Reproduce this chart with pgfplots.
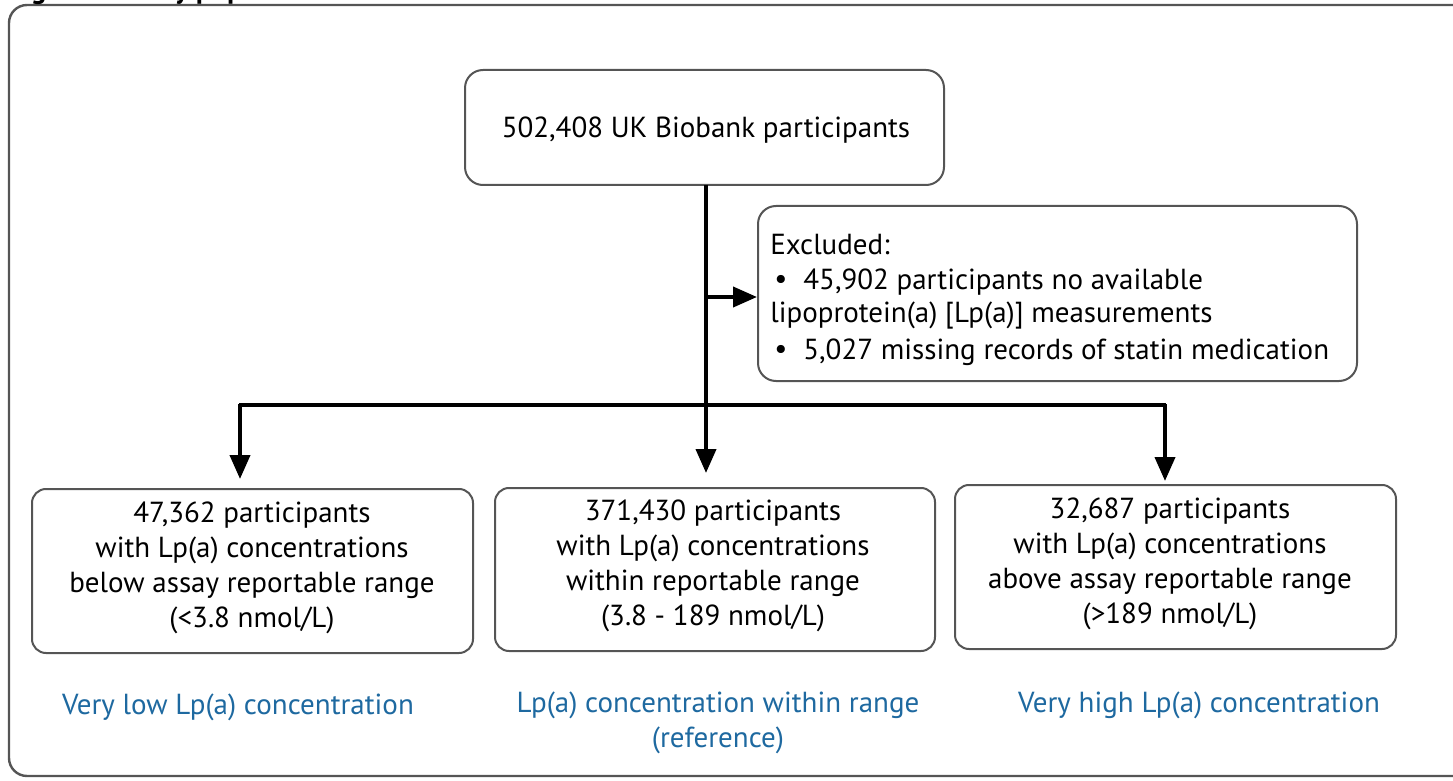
\documentclass[border=0pt]{standalone}
\usepackage{pgfplots}
\pgfplotsset{compat=1.18}
\usetikzlibrary{arrows.meta}
\usepackage{fontspec}
\setmainfont{PT Sans}
\definecolor{lblblue}{RGB}{30,105,160}
\definecolor{boxgray}{RGB}{85,85,85}
\newcommand{\fs}{\fontsize{14.5}{17.6}\selectfont}
\tikzset{txt/.style={inner sep=0pt, font=\fs}}
\begin{document}
\begin{tikzpicture}
\begin{axis}[
  width=726.5pt, height=390.5pt, scale only axis,
  xmin=0, xmax=1453, ymin=0, ymax=781, y dir=reverse,
  hide axis, clip=false,
]
% outer frame
\draw[boxgray, line width=1.2pt, rounded corners=9pt]
  (axis cs:1500,5) -- (axis cs:9,5) -- (axis cs:9,776) -- (axis cs:1500,776);
% title (cut off at the top, as in the reference)
\node[inner sep=0pt, anchor=base west, font=\fontsize{14.5}{17}\selectfont\bfseries] at (axis cs:8,-1) {Figure 1 Study population};

% boxes
\draw[boxgray, line width=1pt, rounded corners=9pt] (axis cs:465,70) rectangle (axis cs:944,185);
\draw[boxgray, line width=1pt, rounded corners=9pt] (axis cs:758,206) rectangle (axis cs:1357,381);
\draw[boxgray, line width=1pt, rounded corners=7pt] (axis cs:32,489) rectangle (axis cs:473,653);
\draw[boxgray, line width=1pt, rounded corners=7pt] (axis cs:495,488) rectangle (axis cs:935,651);
\draw[boxgray, line width=1pt, rounded corners=7pt] (axis cs:955,485) rectangle (axis cs:1396,649);

% connectors
\addplot[black, line width=2pt] coordinates {(706,185) (706,405)};
\addplot[black, line width=2pt, -{Triangle[width=10pt,length=12pt]}] coordinates {(706,297) (757,297)};
\addplot[black, line width=2pt] coordinates {(239,405) (1166,405)};
\addplot[black, line width=2pt, -{Triangle[width=10pt,length=12pt]}] coordinates {(240,404) (240,479)};
\addplot[black, line width=2pt, -{Triangle[width=10pt,length=12pt]}] coordinates {(706,404) (706,473)};
\addplot[black, line width=2pt, -{Triangle[width=10pt,length=12pt]}] coordinates {(1165,404) (1165,481)};

% texts
\node[txt] at (axis cs:706,130) {502,408 UK Biobank participants};

\node[txt, anchor=west] at (axis cs:770,245) {Excluded:};
\node[txt, anchor=west] at (axis cs:774,282) {•};
\node[txt, anchor=west] at (axis cs:803,282) {45,902 participants no available};
\node[txt, anchor=west] at (axis cs:770,316) {lipoprotein(a) [Lp(a)] measurements};
\node[txt, anchor=west] at (axis cs:774,352) {•};
\node[txt, anchor=west] at (axis cs:803,352) {5,027 missing records of statin medication};

\node[txt, align=center] at (axis cs:252,568) {47,362 participants\\with Lp(a) concentrations\\below assay reportable range\\(<3.8 nmol/L)};
\node[txt, align=center] at (axis cs:713,566) {371,430 participants\\with Lp(a) concentrations\\within reportable range\\(3.8 - 189 nmol/L)};
\node[txt, align=center] at (axis cs:1170,564) {32,687 participants\\with Lp(a) concentrations\\above assay reportable range\\(>189 nmol/L)};

\node[txt, text=lblblue] at (axis cs:238,707) {Very low Lp(a) concentration};
\node[txt, text=lblblue, align=center] at (axis cs:718,723) {Lp(a) concentration within range\\(reference)};
\node[txt, text=lblblue] at (axis cs:1199,705) {Very high Lp(a) concentration};
\end{axis}
\pgfresetboundingbox
\useasboundingbox (current axis.south west) rectangle (current axis.north east);
\end{tikzpicture}
\end{document}
